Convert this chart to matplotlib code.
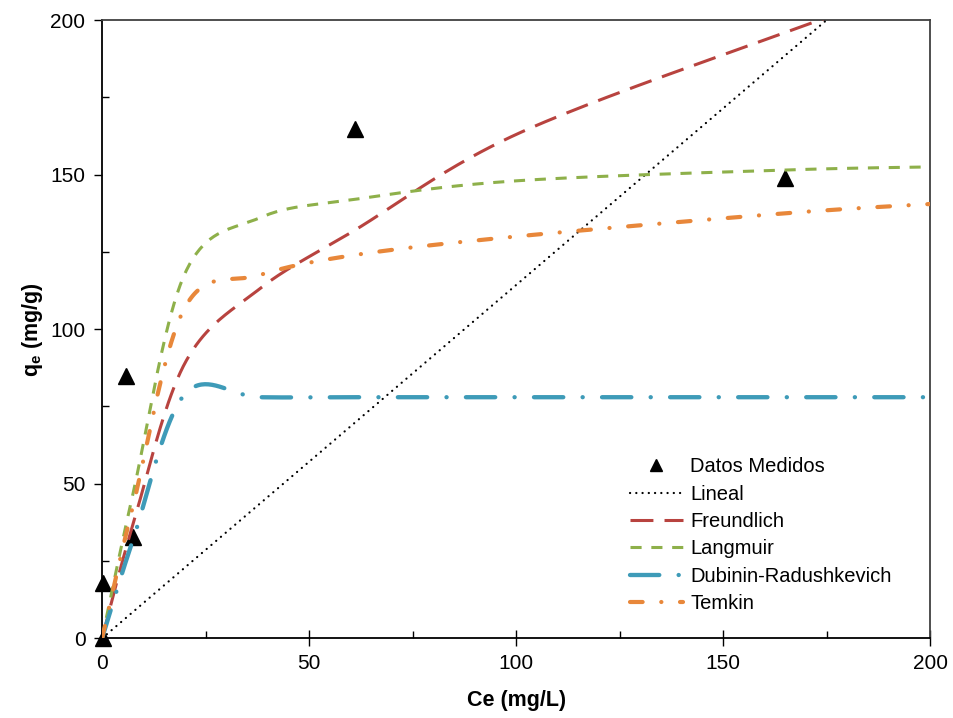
import matplotlib
matplotlib.use("Agg")
import matplotlib.pyplot as plt
from matplotlib.ticker import MultipleLocator
import numpy as np

# measured points
ce_measured = [0.3, 0.3, 5.8, 7.5, 61, 165]
qe_measured = [0, 18, 84.8, 32.7, 164.7, 148.9]

# model curves, knots (Excel smooth line through them)
ce_model = [0, 7.5, 20, 38, 61, 100, 165, 200]
q_lineal = [0, 8.6, 22.9, 43.4, 69.7, 114.3, 188.6, 228.6]
q_freundlich = [0, 37, 89, 113, 132, 163, 196, 212]
q_langmuir = [0, 47, 118, 136, 142, 148, 151.5, 152.5]
q_dr = [0, 32, 79, 78, 78, 78, 78, 78]
q_temkin = [0, 43, 107, 117.5, 124, 130, 137.5, 140.5]


def excel_smooth(xs, ys, n=40):
    # bezier smoothing like the "smoothed line" option in Excel
    pts = list(zip(xs, ys))
    out_x, out_y = [], []
    for i in range(len(pts) - 1):
        p0 = pts[i - 1] if i > 0 else pts[i]
        p1 = pts[i]
        p2 = pts[i + 1]
        p3 = pts[i + 2] if i + 2 < len(pts) else pts[i + 1]
        c1 = (p1[0] + (p2[0] - p0[0]) / 6, p1[1] + (p2[1] - p0[1]) / 6)
        c2 = (p2[0] - (p3[0] - p1[0]) / 6, p2[1] - (p3[1] - p1[1]) / 6)
        last = i == len(pts) - 2
        for t in np.linspace(0, 1, n, endpoint=last):
            a = (1 - t) ** 3
            b = 3 * (1 - t) ** 2 * t
            c = 3 * (1 - t) * t ** 2
            d = t ** 3
            out_x.append(a * p1[0] + b * c1[0] + c * c2[0] + d * p2[0])
            out_y.append(a * p1[1] + b * c1[1] + c * c2[1] + d * p2[1])
    return np.array(out_x), np.array(out_y)


def main():
    plt.rcParams['font.family'] = ['Liberation Sans', 'DejaVu Sans']
    plt.rcParams['mathtext.fontset'] = 'custom'
    plt.rcParams['mathtext.rm'] = 'Liberation Sans'
    plt.rcParams['mathtext.bf'] = 'Liberation Sans:bold'
    plt.rcParams['lines.scale_dashes'] = False

    fig = plt.figure(figsize=(9.54, 7.18), dpi=100)
    ax = fig.add_axes([0.107, 0.111, 0.868, 0.861])

    ax.plot(ce_measured, qe_measured, linestyle='none', marker='^', color='black',
            markersize=11.5, label='Datos Medidos', zorder=2, clip_on=False)

    x, y = excel_smooth(ce_model, q_lineal)
    ax.plot(x, y, color='black', lw=1.6, linestyle=(0, (0.1, 4.4)),
            dash_capstyle='round', label='Lineal', zorder=3)

    x, y = excel_smooth(ce_model, q_freundlich)
    ax.plot(x, y, color='#B8433F', lw=2.2, linestyle=(0, (16.5, 8)),
            dash_capstyle='butt', label='Freundlich', zorder=3)

    x, y = excel_smooth(ce_model, q_langmuir)
    ax.plot(x, y, color='#8EB04A', lw=2.2, linestyle=(0, (8, 7)),
            dash_capstyle='butt', label='Langmuir', zorder=3)

    x, y = excel_smooth(ce_model, q_dr)
    ax.plot(x, y, color='#3E9BB8', lw=3.1, linestyle=(0, (21.1, 13.9, 0.1, 13.9)),
            dash_capstyle='round', label='Dubinin-Radushkevich', zorder=3)

    x, y = excel_smooth(ce_model, q_temkin)
    ax.plot(x, y, color='#E8873A', lw=3.0, linestyle=(0, (9.1, 13.4, 0.1, 13.4)),
            dash_capstyle='round', label='Temkin', zorder=3)

    ax.set_xlim(0, 200)
    ax.set_ylim(0, 200)
    ax.xaxis.set_major_locator(MultipleLocator(50))
    ax.xaxis.set_minor_locator(MultipleLocator(25))
    ax.yaxis.set_major_locator(MultipleLocator(50))
    ax.yaxis.set_minor_locator(MultipleLocator(25))
    ax.tick_params(axis='x', which='major', direction='inout', length=11, width=1, labelsize=15, pad=6)
    ax.tick_params(axis='y', which='major', direction='out', length=6, width=1, labelsize=15, pad=6)
    ax.tick_params(which='minor', direction='in', length=5, width=1)

    for side in ['left', 'bottom']:
        ax.spines[side].set_color('black')
        ax.spines[side].set_linewidth(1.3)
    for side in ['top', 'right']:
        ax.spines[side].set_color('#404040')
        ax.spines[side].set_linewidth(1.3)

    ax.set_xlabel('Ce (mg/L)', fontsize=15.5, fontweight='bold', labelpad=12)
    ax.set_ylabel(r'q$_\mathbf{e}$ (mg/g)', fontsize=15.5, fontweight='bold', labelpad=4)

    ax.legend(loc='lower left', bbox_to_anchor=(0.625, 0.024), frameon=False,
              fontsize=14.5, handlelength=2.65, handletextpad=0.35, labelspacing=0.42,
              markerscale=0.8, borderpad=0)

    fig.savefig('out.png', dpi=100)
    plt.close(fig)


if __name__ == "__main__":
    main()
